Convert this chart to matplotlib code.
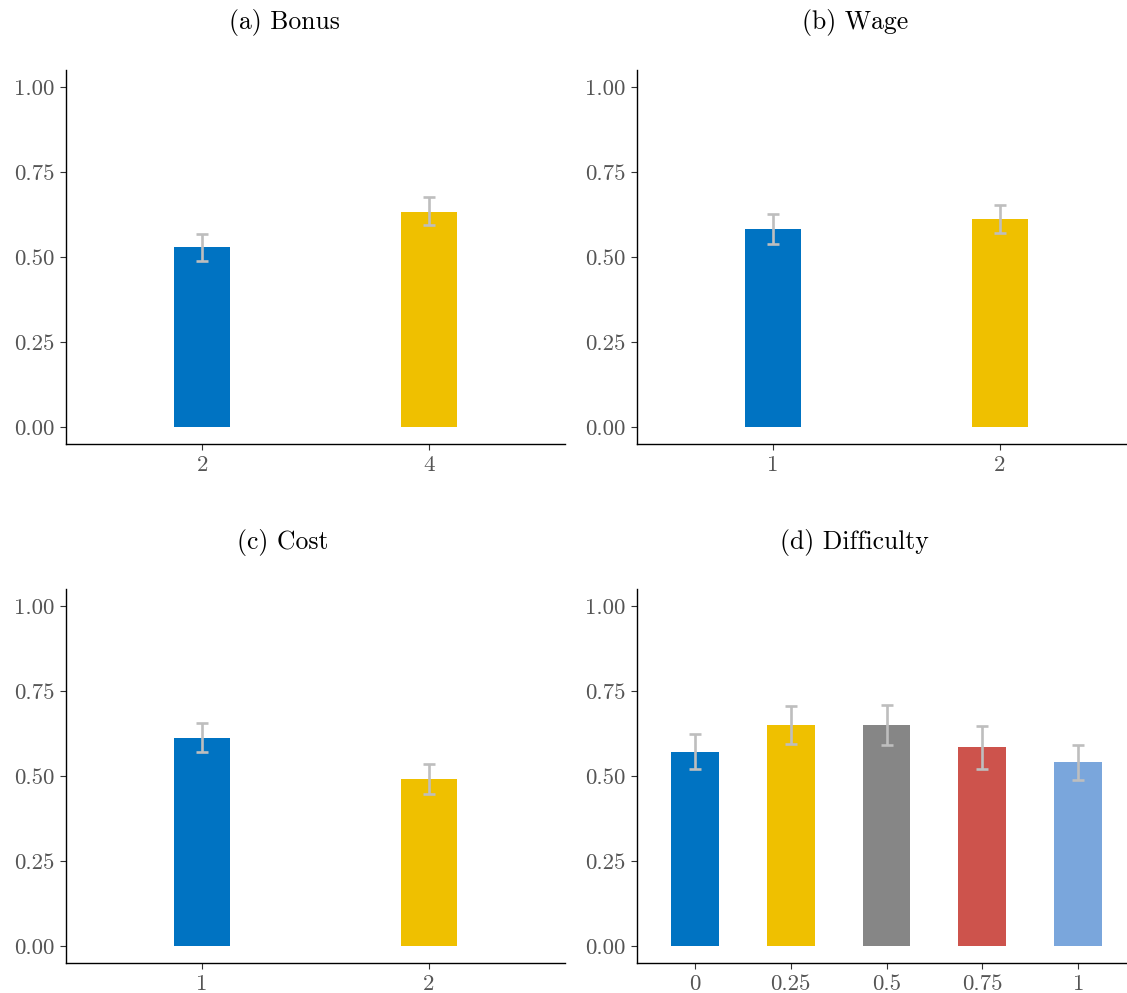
import matplotlib
matplotlib.use("Agg")
import matplotlib.pyplot as plt

plt.rcParams["font.family"] = ["cmr10", "DejaVu Serif"]
plt.rcParams["axes.formatter.use_mathtext"] = True

# Panel data: category labels, mean share, lower and upper bounds of the interval
bonus_labels = ["2", "4"]
bonus_mean = [0.528, 0.633]
bonus_lo = [0.489, 0.594]
bonus_hi = [0.568, 0.677]

wage_labels = ["1", "2"]
wage_mean = [0.581, 0.613]
wage_lo = [0.537, 0.571]
wage_hi = [0.627, 0.654]

cost_labels = ["1", "2"]
cost_mean = [0.613, 0.490]
cost_lo = [0.572, 0.447]
cost_hi = [0.655, 0.535]

diff_labels = ["0", "0.25", "0.5", "0.75", "1"]
diff_mean = [0.572, 0.651, 0.651, 0.584, 0.540]
diff_lo = [0.522, 0.595, 0.592, 0.520, 0.489]
diff_hi = [0.624, 0.707, 0.709, 0.647, 0.592]

titles = ["(a) Bonus", "(b) Wage", "(c) Cost", "(d) Difficulty"]
palette = ["#0073C2", "#EFC000", "#868686", "#CD534C", "#7AA6DC"]
y_ticks = [0.0, 0.25, 0.5, 0.75, 1.0]
y_tick_labels = ["0.00", "0.25", "0.50", "0.75", "1.00"]

W, H = 1127, 993
fig = plt.figure(figsize=(W / 100, H / 100), dpi=100)

panels = [
    (bonus_labels, bonus_mean, bonus_lo, bonus_hi, 0.25, (66, 70), (284, 22)),
    (wage_labels, wage_mean, wage_lo, wage_hi, 0.25, (637, 70), (855, 22)),
    (cost_labels, cost_mean, cost_lo, cost_hi, 0.25, (66, 589), (283, 542)),
    (diff_labels, diff_mean, diff_lo, diff_hi, 0.5, (637, 589), (854, 542)),
]
ax_w, ax_h = 499, 374
tick_color = "#555555"

for (labels, mean, lo, hi, bw, (px, py), (tx, ty)), title in zip(panels, titles):
    ax = fig.add_axes([px / W, 1 - (py + ax_h) / H, ax_w / W, ax_h / H])
    n = len(labels)
    xs = list(range(1, n + 1))
    ax.bar(xs, mean, width=bw, color=palette[:n], zorder=2)
    err = [[m - l for m, l in zip(mean, lo)], [h - m for m, h in zip(mean, hi)]]
    ax.errorbar(xs, mean, yerr=err, fmt="none", ecolor="#BEBEBE",
                elinewidth=1.9, capsize=4.3, capthick=1.9, zorder=3)
    ax.set_xlim(0.4, n + 0.6)
    ax.set_ylim(-0.05, 1.05)
    ax.set_xticks(xs)
    ax.set_xticklabels(labels)
    ax.set_yticks(y_ticks)
    ax.set_yticklabels(y_tick_labels)
    for side in ("top", "right"):
        ax.spines[side].set_visible(False)
    for side in ("left", "bottom"):
        ax.spines[side].set_linewidth(1.0)
        ax.spines[side].set_color("black")
    ax.tick_params(axis="both", length=4.5, width=0.8, color="#333333",
                   labelcolor=tick_color, labelsize=16.5, pad=4)
    fig.text(tx / W, 1 - ty / H, title, ha="center", va="center",
             fontsize=18.5, color="black")

fig.savefig("out.png", dpi=100)
